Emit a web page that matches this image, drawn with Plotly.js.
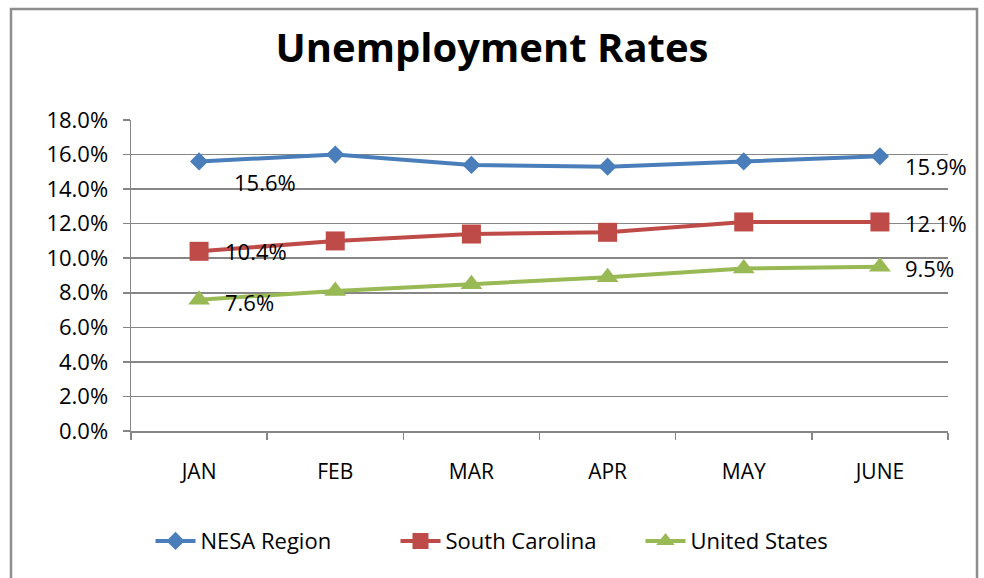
<!DOCTYPE html>
<html>
<head>
<meta charset="utf-8">
<script src="https://cdn.plot.ly/plotly-3.0.1.min.js"></script>
<style>
html,body{margin:0;padding:0;background:#fff;}
#chart{width:984px;height:578px;}
</style>
</head>
<body>
<div id="chart"></div>
<script>
// ---- data ----
const months = ["JAN", "FEB", "MAR", "APR", "MAY", "JUNE"];
const nesaRegion = [15.6, 16.0, 15.4, 15.3, 15.6, 15.9];
const southCarolina = [10.4, 11.0, 11.4, 11.5, 12.1, 12.1];
const unitedStates = [7.6, 8.1, 8.5, 8.9, 9.4, 9.5];
const seriesNames = ["NESA Region", "South Carolina", "United States"];
const yTickVals = [0, 2, 4, 6, 8, 10, 12, 14, 16, 18];

// ---- styles ----
const FONT = "Open Sans, Lato, sans-serif";
const colors = ["#4A7EBB", "#BE4B48", "#98B954"];
const symbols = ["diamond", "square", "triangle-up"];
const msizes = [14, 19, 19];
const allSeries = [nesaRegion, southCarolina, unitedStates];

const traces = allSeries.map((vals, i) => ({
  type: "scatter",
  mode: "lines+markers",
  name: seriesNames[i],
  x: months,
  y: vals,
  line: {color: colors[i], width: 4},
  marker: {color: colors[i], symbol: symbols[i], size: msizes[i]},
  cliponaxis: false
}));

// label offsets (px) for first and last point of each series
const labelOffsets = [
  {first: [33, -21], last: [23, -10]},
  {first: [24, 0], last: [23, -1]},
  {first: [24, -2], last: [23, -1]}
];
const annotations = [];
allSeries.forEach((vals, i) => {
  [[0, "first"], [vals.length - 1, "last"]].forEach(([idx, key]) => {
    annotations.push({
      x: months[idx], y: vals[idx], xref: "x", yref: "y",
      text: vals[idx].toFixed(1) + "%",
      showarrow: false, xanchor: "left", yanchor: "middle",
      xshift: labelOffsets[i][key][0], yshift: labelOffsets[i][key][1],
      font: {family: FONT, size: 22, color: "#000"}
    });
  });
});

const layout = {
  width: 984, height: 578,
  paper_bgcolor: "#fff", plot_bgcolor: "#fff",
  margin: {l: 131, r: 36, t: 120, b: 147, pad: 0, autoexpand: false},
  title: {
    text: "<b>Unemployment Rates</b>",
    font: {family: FONT, size: 40, color: "#000"},
    x: 492 / 984, xref: "container", xanchor: "center",
    y: 1, yref: "container", yanchor: "top", pad: {t: 34}
  },
  showlegend: true,
  legend: {
    orientation: "h", x: (518 - 131) / 817, xanchor: "center",
    y: -0.354, yanchor: "middle",
    font: {family: FONT, size: 22, color: "#000"},
    itemwidth: 40, traceorder: "normal",
    entrywidth: 190, entrywidthmode: "pixels"
  },
  xaxis: {
    type: "category",
    showgrid: false,
    showline: true, linecolor: "#868686", linewidth: 1.5,
    ticks: "outside", tickson: "boundaries", ticklen: 7, tickcolor: "#868686", tickwidth: 1.5,
    tickfont: {family: FONT, size: 21, color: "#000"},
    ticklabelstandoff: 21, tickangle: 0,
    range: [-0.5, 5.5],
    zeroline: false
  },
  yaxis: {
    range: [0, 18],
    tickvals: yTickVals,
    ticktext: yTickVals.map(v => v.toFixed(1) + "%"),
    showgrid: true, gridcolor: "#868686", gridwidth: 1.5,
    showline: true, linecolor: "#868686", linewidth: 1.5,
    ticks: "outside", ticklen: 7, tickcolor: "#868686", tickwidth: 1.5,
    tickfont: {family: FONT, size: 22, color: "#000"},
    ticklabelstandoff: 10,
    zeroline: false
  },
  annotations: annotations,
  shapes: [{
    type: "rect", xref: "paper", yref: "paper",
    x0: (11 - 131) / 817, x1: (977 - 131) / 817,
    y0: (431 - 600) / 311, y1: (431 - 9) / 311,
    line: {color: "#8E8E8E", width: 2.5}, fillcolor: "rgba(0,0,0,0)", layer: "below"
  }]
};

Plotly.newPlot("chart", traces, layout, {displayModeBar: false, staticPlot: true});
</script>
</body>
</html>
